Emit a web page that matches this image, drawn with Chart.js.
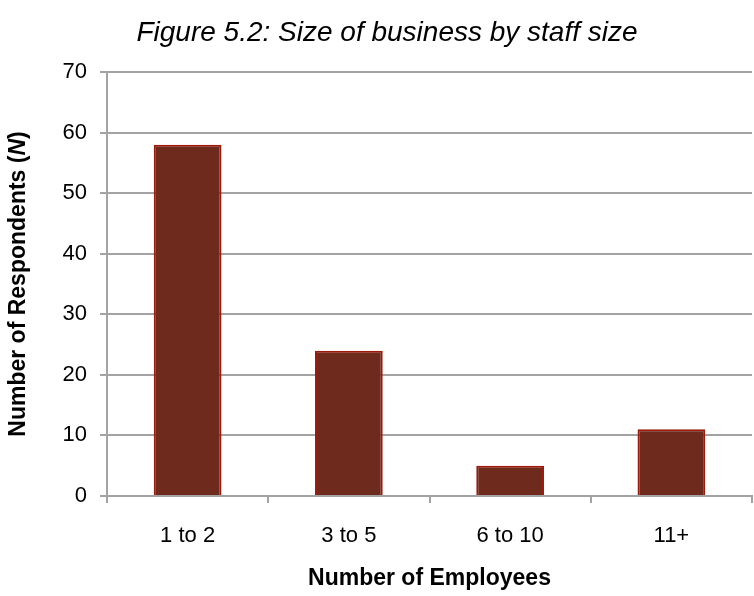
<!DOCTYPE html>
<html>
<head>
<meta charset="utf-8">
<script src="https://cdn.jsdelivr.net/npm/chart.js@4"></script>
<style>
  html, body { margin: 0; padding: 0; background: #fff; }
  #wrap { width: 754px; height: 596px; }
</style>
</head>
<body>
<div id="wrap"><canvas id="barChart"></canvas></div>
<script>
const categories = ["1 to 2", "3 to 5", "6 to 10", "11+"];
const respondents = [58, 24, 5, 11];
const yTicks = [0, 10, 20, 30, 40, 50, 60, 70];

const gridGrey = "#A3A3A3";
const barFill = "#6E2A1D";
const barEdge = "#9C1A0B";
const fontFamily = "'Liberation Sans', Arial, sans-serif";

Chart.defaults.color = "#000";
Chart.defaults.font.family = fontFamily;

// figure caption and the y axis title (with the italic N) drawn by hand
const titles = {
  id: "titles",
  afterDraw(chart) {
    const ctx = chart.ctx;
    ctx.save();
    ctx.fillStyle = "#000";
    ctx.textBaseline = "middle";

    ctx.font = "italic 28px " + fontFamily;
    ctx.textAlign = "center";
    ctx.fillText("Figure 5.2: Size of business by staff size", 387, 33);

    const parts = [
      ["bold 23px " + fontFamily, "Number of Respondents ("],
      ["italic bold 23px " + fontFamily, "N"],
      ["bold 23px " + fontFamily, ")"]
    ];
    let total = 0;
    parts.forEach(p => { ctx.font = p[0]; total += ctx.measureText(p[1]).width; });
    ctx.translate(19, 284);
    ctx.rotate(-Math.PI / 2);
    ctx.textAlign = "left";
    let x = -total / 2;
    parts.forEach(p => {
      ctx.font = p[0];
      ctx.fillText(p[1], x, 0);
      x += ctx.measureText(p[1]).width;
    });
    ctx.restore();
  }
};

new Chart(document.getElementById("barChart"), {
  type: "bar",
  data: {
    labels: categories,
    datasets: [{
      data: respondents,
      backgroundColor: barFill,
      borderColor: barEdge,
      borderWidth: 2,
      categoryPercentage: 1,
      barPercentage: 0.42
    }]
  },
  options: {
    responsive: true,
    maintainAspectRatio: false,
    animation: false,
    layout: { padding: { top: 72, right: 2, left: 0, bottom: 0 } },
    plugins: {
      legend: { display: false },
      tooltip: { enabled: false }
    },
    scales: {
      x: {
        afterFit: s => { s.height = 100; },
        grid: {
          offset: true,
          drawOnChartArea: false,
          tickLength: 7,
          color: gridGrey,
          lineWidth: 2
        },
        border: { color: gridGrey, width: 2 },
        ticks: { font: { size: 22 }, padding: 20, maxRotation: 0 },
        title: {
          display: true,
          text: "Number of Employees",
          font: { size: 23, weight: "bold" },
          padding: { top: 0, bottom: 4 }
        }
      },
      y: {
        min: 0,
        max: 70,
        afterFit: s => { s.width = 107; },
        afterBuildTicks: s => { s.ticks = yTicks.map(v => ({ value: v })); },
        grid: { tickLength: 7, color: gridGrey, lineWidth: 2 },
        border: { color: gridGrey, width: 2 },
        ticks: { font: { size: 22 }, padding: 13 }
      }
    }
  },
  plugins: [titles]
});
</script>
</body>
</html>
